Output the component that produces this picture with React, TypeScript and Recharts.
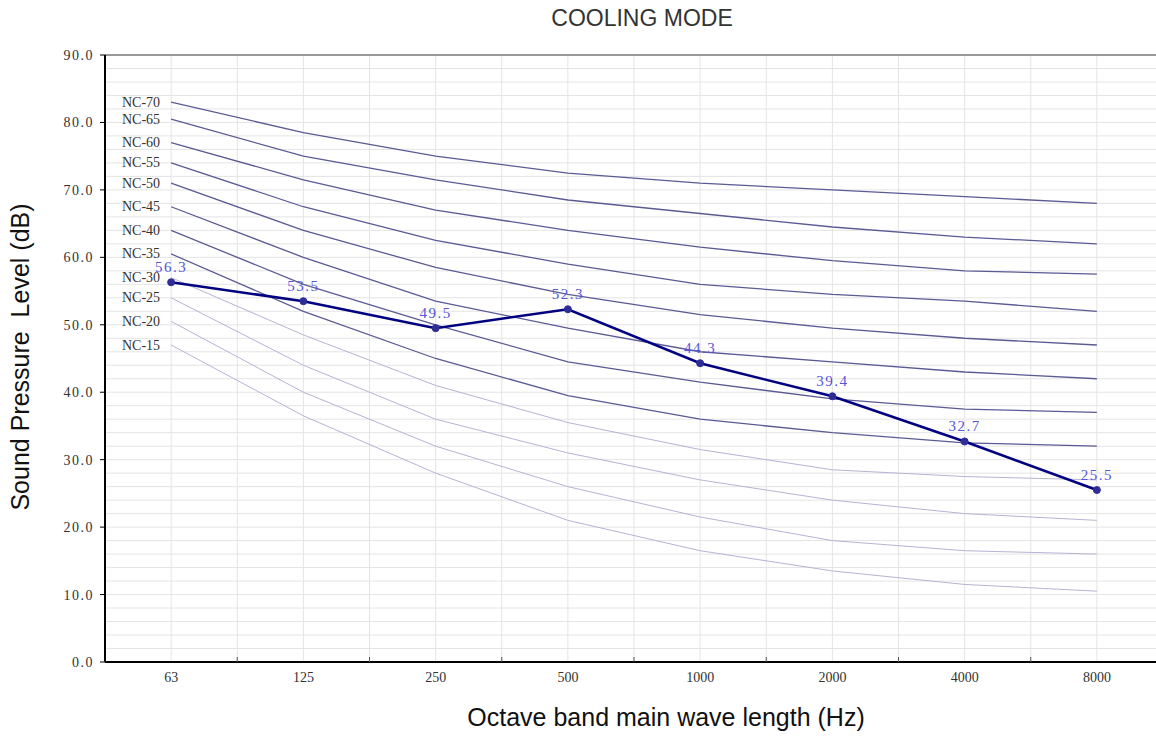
import React from "react";
import {
  LineChart,
  Line,
  XAxis,
  YAxis,
  CartesianGrid,
  LabelList,
} from "recharts";

// octave bands (Hz)
const bands = ["63", "125", "250", "500", "1000", "2000", "4000", "8000"];
const bandIndex = [0, 1, 2, 3, 4, 5, 6, 7];

// measured sound pressure, cooling mode
const measured = [56.3, 53.5, 49.5, 52.3, 44.3, 39.4, 32.7, 25.5];

// NC reference curves
const nc70 = [83, 78.5, 75, 72.5, 71, 70, 69, 68];
const nc65 = [80.5, 75, 71.5, 68.5, 66.5, 64.5, 63, 62];
const nc60 = [77, 71.5, 67, 64, 61.5, 59.5, 58, 57.5];
const nc55 = [74, 67.5, 62.5, 59, 56, 54.5, 53.5, 52];
const nc50 = [71, 64, 58.5, 54.5, 51.5, 49.5, 48, 47];
const nc45 = [67.5, 60, 53.5, 49.5, 46, 44.5, 43, 42];
const nc40 = [64, 56, 50, 44.5, 41.5, 39, 37.5, 37];
const nc35 = [60.5, 52, 45, 39.5, 36, 34, 32.5, 32];
const nc30 = [57, 48.5, 41, 35.5, 31.5, 28.5, 27.5, 27];
const nc25 = [54, 44, 36, 31, 27, 24, 22, 21];
const nc20 = [50.5, 40, 32, 26, 21.5, 18, 16.5, 16];
const nc15 = [47, 36.5, 28, 21, 16.5, 13.5, 11.5, 10.5];

const yTicks = [0, 10, 20, 30, 40, 50, 60, 70, 80, 90];
const yGridTicks = [
  0, 2, 4, 6, 8, 10, 12, 14, 16, 18, 20, 22, 24, 26, 28, 30, 32, 34, 36, 38, 40,
  42, 44, 46, 48, 50, 52, 54, 56, 58, 60, 62, 64, 66, 68, 70, 72, 74, 76, 78, 80,
  82, 84, 86, 88, 90,
];
const xGridTicks = [
  -0.5, 0, 0.5, 1, 1.5, 2, 2.5, 3, 3.5, 4, 4.5, 5, 5.5, 6, 6.5, 7, 7.5,
];
const xBoundTicks = [0.5, 1.5, 2.5, 3.5, 4.5, 5.5, 6.5];

const ncCurves = [
  { key: "nc70", name: "NC-70", values: nc70, light: false },
  { key: "nc65", name: "NC-65", values: nc65, light: false },
  { key: "nc60", name: "NC-60", values: nc60, light: false },
  { key: "nc55", name: "NC-55", values: nc55, light: false },
  { key: "nc50", name: "NC-50", values: nc50, light: false },
  { key: "nc45", name: "NC-45", values: nc45, light: false },
  { key: "nc40", name: "NC-40", values: nc40, light: false },
  { key: "nc35", name: "NC-35", values: nc35, light: false },
  { key: "nc30", name: "NC-30", values: nc30, light: true },
  { key: "nc25", name: "NC-25", values: nc25, light: true },
  { key: "nc20", name: "NC-20", values: nc20, light: true },
  { key: "nc15", name: "NC-15", values: nc15, light: true },
];

const data = bandIndex.map((idx, i) => {
  const row: Record<string, number | string> = {
    idx,
    band: bands[i],
    measured: measured[i],
  };
  ncCurves.forEach((c) => {
    row[c.key] = c.values[i];
  });
  return row;
});

const SERIF = "'Liberation Serif', 'DejaVu Serif', serif";
const SANS = "'Liberation Sans', Arial, sans-serif";
const DARK_NC = "#5a5a94";
const LIGHT_NC = "#b4b4d4";
const NAVY = "#000080";
const GRID = "#e4e4e4";

function ncLabel(name: string) {
  return (props: any) => {
    if (props.index !== 0) return null;
    return (
      <text
        x={Number(props.x) - 11}
        y={Number(props.y)}
        dy={4.5}
        textAnchor="end"
        fontSize={14}
        fontFamily={SERIF}
        fill="#333"
      >
        {name}
      </text>
    );
  };
}

export default function App() {
  return (
    <div
      style={{
        position: "fixed",
        left: 0,
        top: 0,
        width: 1156,
        height: 736,
        overflow: "hidden",
        background: "#fff",
      }}
    >
      <div
        style={{
          position: "absolute",
          left: 642,
          top: 18,
          transform: "translate(-50%, -50%)",
          fontFamily: SANS,
          fontSize: 23,
          color: "#333",
          whiteSpace: "nowrap",
        }}
      >
        COOLING MODE
      </div>
      <div
        style={{
          position: "absolute",
          left: 20,
          top: 357,
          transform: "translate(-50%, -50%) rotate(-90deg)",
          fontFamily: SANS,
          fontSize: 25,
          color: "#111",
          whiteSpace: "pre",
        }}
      >
        {"Sound Pressure  Level (dB)"}
      </div>
      <div
        style={{
          position: "absolute",
          left: 666,
          top: 717,
          transform: "translate(-50%, -50%)",
          fontFamily: SANS,
          fontSize: 25,
          color: "#111",
          whiteSpace: "nowrap",
        }}
      >
        Octave band main wave length (Hz)
      </div>

      <LineChart
        width={1163}
        height={736}
        data={data}
        margin={{ top: 55, right: 0, left: 0, bottom: 44 }}
        style={{ position: "absolute", left: 0, top: 0 }}
      >
        <CartesianGrid
          stroke={GRID}
          strokeWidth={1}
          horizontalValues={yGridTicks}
          verticalValues={xGridTicks}
        />
        <XAxis
          dataKey="idx"
          type="number"
          domain={[-0.5, 7.5]}
          ticks={bandIndex}
          tickFormatter={(v: number) => bands[v] ?? ""}
          tickLine={false}
          tickSize={0}
          tickMargin={10}
          height={30}
          axisLine={{ stroke: "#000", strokeWidth: 2 }}
          tick={{ fill: "#333", fontSize: 14, fontFamily: SERIF }}
          interval={0}
        />
        <XAxis
          xAxisId="bounds"
          dataKey="idx"
          type="number"
          domain={[-0.5, 7.5]}
          ticks={xBoundTicks}
          mirror
          tickFormatter={() => ""}
          tickSize={5}
          tickLine={{ stroke: "#555" }}
          axisLine={false}
          interval={0}
        />
        <XAxis
          xAxisId="top"
          orientation="top"
          dataKey="idx"
          type="number"
          domain={[-0.5, 7.5]}
          mirror
          tick={false}
          tickLine={false}
          axisLine={{ stroke: "#999", strokeWidth: 2 }}
        />
        <YAxis
          type="number"
          domain={[0, 90]}
          ticks={yTicks}
          width={105}
          tickSize={5}
          tickMargin={6}
          tickLine={{ stroke: "#000" }}
          axisLine={{ stroke: "#000", strokeWidth: 2 }}
          tickFormatter={(v: number) => v.toFixed(1)}
          tick={{ fill: "#333", fontSize: 14, fontFamily: SERIF, letterSpacing: 1.5 }}
          interval={0}
        />

        {ncCurves.map((c) => (
          <Line
            key={c.key}
            dataKey={c.key}
            type="linear"
            stroke={c.light ? LIGHT_NC : DARK_NC}
            strokeWidth={c.light ? 1 : 1.3}
            dot={false}
            activeDot={false}
            isAnimationActive={false}
          >
            <LabelList dataKey={c.key} content={ncLabel(c.name)} />
          </Line>
        ))}

        <Line
          dataKey="measured"
          type="linear"
          stroke={NAVY}
          strokeWidth={2.5}
          dot={{ r: 3.5, fill: "#2e2e96", stroke: "#2e2e96", strokeWidth: 1 }}
          activeDot={false}
          isAnimationActive={false}
        >
          <LabelList
            dataKey="measured"
            position="top"
            offset={10}
            formatter={(v: any) => Number(v).toFixed(1)}
            style={{ fill: "#5555d8", fontSize: 15, fontFamily: SERIF, letterSpacing: 1.5 }}
          />
        </Line>
      </LineChart>
    </div>
  );
}
